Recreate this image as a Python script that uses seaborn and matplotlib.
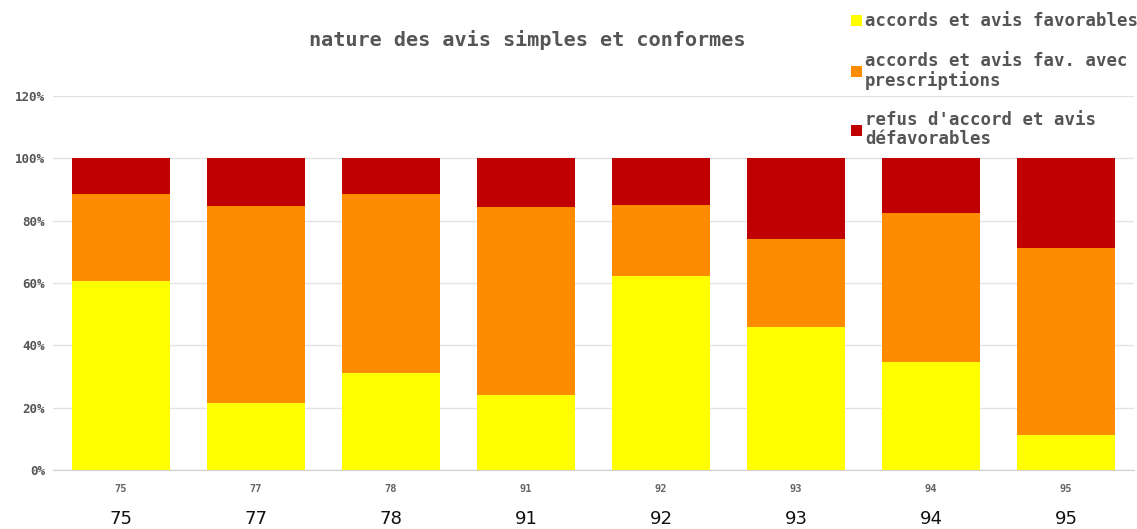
import matplotlib
matplotlib.use("Agg")
import matplotlib.pyplot as plt
import seaborn as sns
import pandas as pd
from matplotlib.patches import Patch
from matplotlib.ticker import PercentFormatter

departements = ["75", "77", "78", "91", "92", "93", "94", "95"]
favorables = [60.6, 21.5, 31.1, 24.0, 62.2, 45.8, 34.6, 11.2]
avec_prescriptions = [27.9, 63.1, 57.4, 60.3, 22.7, 28.2, 47.8, 60.0]
defavorables = [11.5, 15.4, 11.5, 15.7, 15.1, 26.0, 17.6, 28.8]

labels = [
    "accords et avis favorables",
    "accords et avis fav. avec\nprescriptions",
    "refus d'accord et avis\ndéfavorables",
]
colors = ["#ffff00", "#ff8c00", "#c00000"]

df = pd.DataFrame({
    "dep": departements,
    "fav": favorables,
    "presc": avec_prescriptions,
    "refus": defavorables,
})
df["top_fav"] = df["fav"]
df["top_presc"] = df["fav"] + df["presc"]
df["top_refus"] = df["top_presc"] + df["refus"]

sns.set_style("white")
mono = ["DejaVu Sans Mono"]

fig = plt.figure(figsize=(11.37, 5.29), dpi=100)
ax = fig.add_axes([0.047, 0.1115, 0.95, 0.707])

# stacked bars drawn as overlapping cumulative totals
for col, color in zip(["top_refus", "top_presc", "top_fav"], colors[::-1]):
    sns.barplot(data=df, x="dep", y=col, color=color, width=0.72,
                saturation=1, linewidth=0, ax=ax, zorder=2)

ax.set_ylim(0, 120)
ax.set_yticks(range(0, 121, 20))
ax.yaxis.set_major_formatter(PercentFormatter(decimals=0))
ax.grid(axis="y", color="#e3e3e3", linewidth=1, zorder=0)
ax.set_axisbelow(True)
for s in ["top", "right", "left"]:
    ax.spines[s].set_visible(False)
ax.spines["bottom"].set_color("#d0d0d0")
ax.set_xlabel("")
ax.set_ylabel("")
ax.tick_params(axis="y", length=0, pad=6, labelsize=9, labelcolor="#555555")
ax.tick_params(axis="x", length=0, pad=10, labelsize=7.5, labelcolor="#666666")
for t in ax.get_yticklabels() + ax.get_xticklabels():
    t.set_family(mono)
    t.set_fontweight("bold")

# second row of category labels
for i, dep in enumerate(departements):
    ax.text(i, -0.13, dep, transform=ax.get_xaxis_transform(), ha="center",
            va="center", fontsize=13, color="#111111", family=["DejaVu Sans"])

fig.text(0.4635, 0.924, "nature des avis simples et conformes", ha="center",
         va="center", fontsize=14.5, fontweight="bold", color="#555555", family=mono)

handles = [Patch(facecolor=c, edgecolor="none") for c in colors]
leg = fig.legend(handles, labels, loc="upper left", bbox_to_anchor=(0.738, 1.0),
                 frameon=False, prop={"family": mono, "size": 12.5, "weight": "bold"},
                 handlelength=0.6, handleheight=0.6, handletextpad=0.2,
                 labelspacing=1.25, borderaxespad=0.3)
for t in leg.get_texts():
    t.set_color("#555555")
    t.set_linespacing(1.05)
leg.set_zorder(5)

fig.savefig("out.png", dpi=100, facecolor="white")
